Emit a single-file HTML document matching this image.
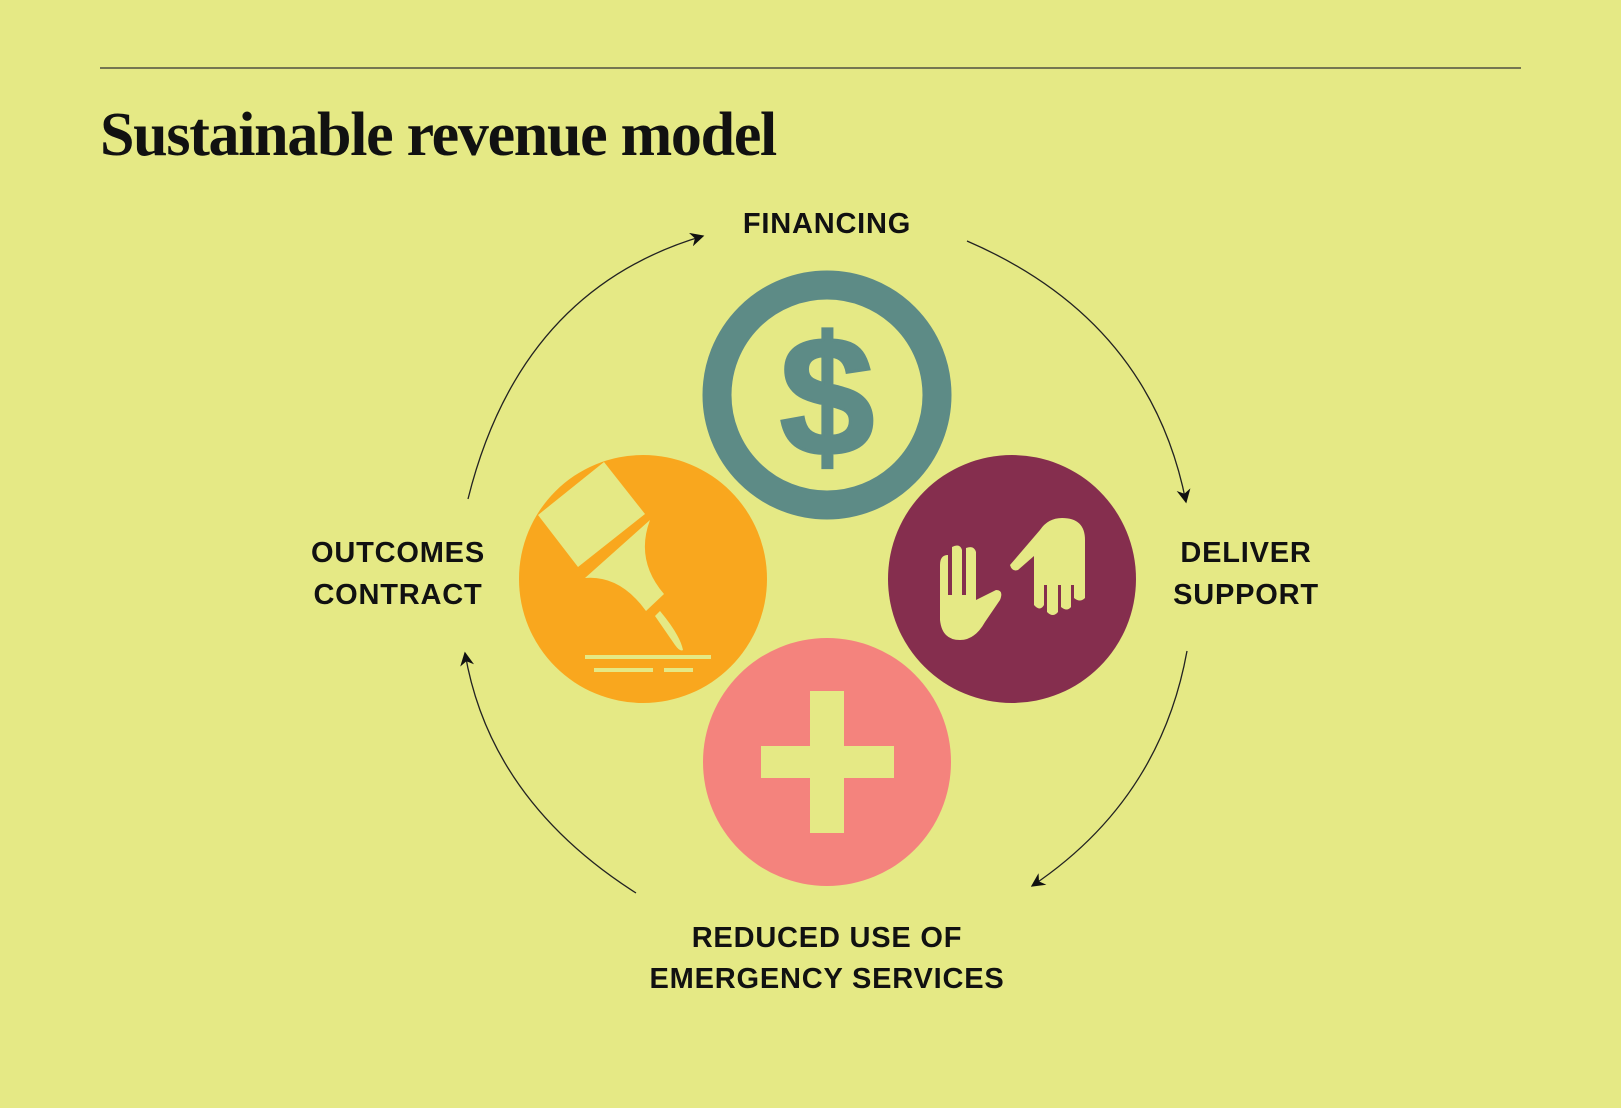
<!DOCTYPE html>
<html><head><style>
body{margin:0;width:1621px;height:1103px;background:#e5e985;overflow:hidden}
</style></head><body>
<svg width="1621" height="1103" viewBox="0 0 1621 1103" xmlns="http://www.w3.org/2000/svg">
<defs><marker id="a" viewBox="0 0 10 10" refX="9" refY="5" markerWidth="14" markerHeight="14" markerUnits="userSpaceOnUse" orient="auto"><path d="M0,0 L10,5 L0,10 L3,5 z" fill="#111"/></marker></defs>
<line x1="100" y1="68" x2="1521" y2="68" stroke="#333" stroke-width="1.2"/>
<text x="100" y="155" font-family="Liberation Serif, serif" font-weight="bold" font-size="62" letter-spacing="-1.3" fill="#111">Sustainable revenue model</text>
<g font-family="Liberation Sans, sans-serif" font-weight="600" font-size="29" letter-spacing="0.8" fill="#111" text-anchor="middle">
<text x="827" y="233">FINANCING</text>
<text x="398" y="562">OUTCOMES</text><text x="398" y="604">CONTRACT</text>
<text x="1246" y="562">DELIVER</text><text x="1246" y="604">SUPPORT</text>
<text x="827" y="947">REDUCED USE OF</text><text x="827" y="988">EMERGENCY SERVICES</text>
</g>
<g fill="none" stroke="#222" stroke-width="1.3" marker-end="url(#a)">
<path d="M468,499 Q520,290 703,236"/>
<path d="M967,241 Q1150,320 1186,502"/>
<path d="M1187,651 Q1160,800 1032,886"/>
<path d="M636,893 Q490,800 465,653"/>
</g>
<circle cx="827" cy="395" r="110" fill="none" stroke="#5d8b86" stroke-width="29"/>
<text x="827" y="455" text-anchor="middle" font-family="Liberation Sans, sans-serif" font-weight="bold" font-size="170" fill="#5d8b86" stroke="#5d8b86" stroke-width="3">$</text>
<circle cx="643" cy="579" r="124" fill="#f9a71e"/>
<g fill="#e5e985">
<path d="M538,515 L604,462 L645,514 L578,567 Z"/>
<path d="M650,520 Q635,560 664,594 L646,611 Q620,575 585,578 Z"/>
<path d="M655,616 L660,611 Q680,635 683,650 Q680,652 675,645 Z"/>
<rect x="585" y="655" width="126" height="4"/>
<rect x="594" y="668" width="59" height="4"/>
<rect x="664" y="668" width="29" height="4"/>
</g>
<circle cx="1012" cy="579" r="124" fill="#852e4e"/>
<g fill="#e5e985">
<path d="M940,565 Q940,555 948,555 L948,595 L952,595 L952,547 Q960,543 962,550 L962,595 L966,595 L966,548 Q974,545 976,552 L976,600 L996,590 Q1004,590 1000,600 L985,622 Q975,640 960,640 Q942,640 940,620 Z"/>
<path d="M1085,540 Q1085,518 1062,518 Q1048,518 1040,530 L1010,565 Q1012,572 1018,570 L1034,556 L1034,605 Q1040,612 1044,605 L1044,585 L1047,585 L1047,612 Q1053,618 1058,612 L1058,585 L1061,585 L1061,607 Q1067,612 1071,607 L1071,585 L1074,585 L1074,598 Q1080,603 1085,598 Z"/>
</g>
<circle cx="827" cy="762" r="124" fill="#f4837d"/>
<g fill="#e5e985">
<rect x="810" y="691" width="34" height="142"/>
<rect x="761" y="746" width="133" height="32"/>
</g>
</svg>
</body></html>
